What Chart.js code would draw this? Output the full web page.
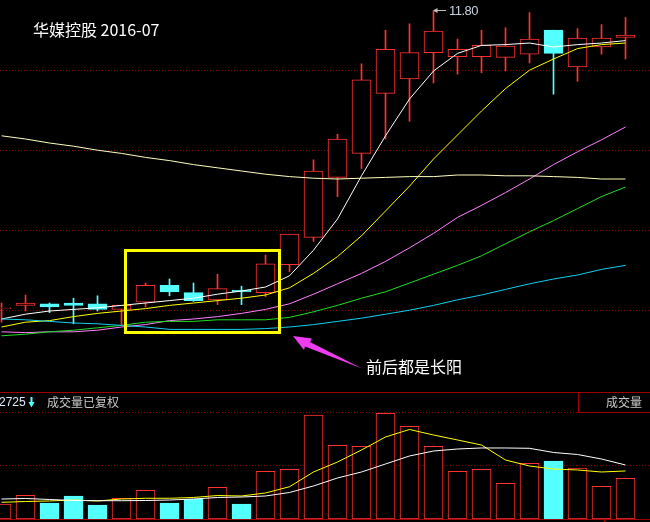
<!DOCTYPE html>
<html>
<head>
<meta charset="utf-8">
<script src="https://cdn.jsdelivr.net/npm/chart.js@4.4.1/dist/chart.umd.min.js"></script>
<style>
  body { margin: 0; background: #000; }
  .wrap { position: relative; width: 650px; height: 522px; overflow: hidden; background: #000; font-family: "Noto Sans CJK SC", sans-serif; }
  canvas { position: absolute; left: 0; }
  #priceChart { top: 0; }
  #volChart { top: 392px; }
  .txt { position: absolute; white-space: nowrap; line-height: 1; }
  .line { position: absolute; background: #a00000; }
  svg { position: absolute; left: 0; top: 0; pointer-events: none; }
</style>
</head>
<body>
<div class="wrap">
  <div class="line" style="left:0;top:392px;width:650px;height:1px"></div>
  <div class="line" style="left:578px;top:392px;width:1px;height:20px"></div>
  <div class="line" style="left:578px;top:412px;width:72px;height:1px"></div>
  <div class="line" style="left:0;top:519px;width:650px;height:1px"></div>
  <div class="line" style="left:604px;top:519px;width:1px;height:3px"></div>

  <canvas id="priceChart" width="650" height="392"></canvas>
  <canvas id="volChart" width="650" height="130"></canvas>

  <div class="txt" style="left:33px;top:21px;font-size:16px;color:#fff">华媒控股 2016-07</div>
  <div class="txt" style="left:366px;top:358px;font-size:16px;color:#fff">前后都是长阳</div>
  <div class="txt" style="left:449px;top:4px;font-size:13px;letter-spacing:-0.5px;color:#c8d0e0;font-family:'Liberation Sans'">11.80</div>
  <div class="txt" style="left:-1px;top:396px;font-size:12px;color:#e0e8ff;font-family:'Liberation Sans'">2725</div>
  <div class="txt" style="left:47px;top:396px;font-size:12px;color:#c8c8c8">成交量已复权</div>
  <div class="txt" style="left:606px;top:396px;font-size:12px;color:#c8c8c8">成交量</div>

  <svg width="650" height="522">
    <rect x="125.5" y="250.5" width="154" height="82" fill="none" stroke="#ffff00" stroke-width="3"/>
    <polygon points="293,336 312,338.5 310,342 362,368.5 305,346.5 304,350" fill="#f03cf0"/>
    <line x1="436" y1="10.5" x2="446" y2="10.5" stroke="#c0c0c0" stroke-width="1"/>
    <polygon points="433,10.5 437.5,8 437.5,13" fill="#c0c0c0"/>
    <rect x="30.5" y="397" width="2" height="6" fill="#54ffff"/>
    <polygon points="28.5,402 34.5,402 31.5,407.5" fill="#54ffff"/>
  </svg>
</div>

<script>
// Data (trading days of 2016-07 window)

const days = [0, 1, 2, 3, 4, 5, 6, 7, 8, 9, 10, 11, 12, 13, 14, 15, 16, 17, 18, 19, 20, 21, 22, 23, 24, 25, 26];
const open  = [8.08, 8.12, 8.14, 8.15, 8.14, 8.07, 8.16, 8.37, 8.28, 8.19, 8.31, 8.28, 8.63, 8.97, 9.72, 10.02, 10.77, 10.95, 11.28, 11.23, 11.23, 11.22, 11.26, 11.56, 11.10, 11.35, 11.47];
const high  = [8.15, 8.25, 8.15, 8.21, 8.24, 8.12, 8.40, 8.45, 8.40, 8.51, 8.36, 8.75, 9.01, 9.94, 10.26, 11.14, 11.56, 11.64, 11.80, 11.45, 11.56, 11.59, 11.78, 11.56, 11.58, 11.63, 11.72];
const low   = [7.91, 8.05, 8.03, 7.89, 8.05, 7.88, 8.10, 8.24, 8.17, 8.13, 8.13, 8.23, 8.54, 8.92, 9.48, 9.83, 10.20, 10.42, 10.90, 11.01, 11.03, 11.05, 11.15, 10.76, 10.92, 11.26, 11.20];
const close = [8.09, 8.15, 8.10, 8.12, 8.07, 8.12, 8.37, 8.29, 8.18, 8.33, 8.29, 8.64, 9.01, 9.80, 10.20, 10.94, 11.32, 11.28, 11.55, 11.32, 11.37, 11.36, 11.45, 11.27, 11.46, 11.46, 11.50];

const ma5   = [7.95, 8.01, 8.05, 8.07, 8.09, 8.12, 8.15, 8.18, 8.21, 8.26, 8.30, 8.35, 8.49, 8.81, 9.20, 9.74, 10.24, 10.70, 11.05, 11.27, 11.37, 11.38, 11.40, 11.35, 11.38, 11.40, 11.43];
const ma10  = [7.85, 7.91, 7.93, 7.98, 8.02, 8.05, 8.08, 8.12, 8.15, 8.18, 8.21, 8.25, 8.34, 8.52, 8.73, 8.99, 9.30, 9.61, 9.95, 10.25, 10.55, 10.83, 11.06, 11.20, 11.33, 11.38, 11.40];
const ma20  = [7.79, 7.78, 7.79, 7.79, 7.81, 7.85, 7.88, 7.93, 7.95, 7.98, 8.02, 8.07, 8.14, 8.26, 8.39, 8.52, 8.67, 8.84, 9.02, 9.22, 9.37, 9.53, 9.70, 9.88, 10.04, 10.19, 10.35];
const ma30  = [7.74, 7.76, 7.79, 7.81, 7.84, 7.87, 7.91, 7.92, 7.92, 7.94, 7.94, 7.94, 7.97, 8.04, 8.12, 8.21, 8.29, 8.40, 8.51, 8.62, 8.74, 8.89, 9.04, 9.18, 9.33, 9.48, 9.60];
const ma60  = [7.95, 7.94, 7.92, 7.90, 7.89, 7.87, 7.85, 7.82, 7.82, 7.82, 7.82, 7.83, 7.85, 7.88, 7.92, 7.96, 8.01, 8.06, 8.12, 8.19, 8.25, 8.32, 8.39, 8.45, 8.50, 8.57, 8.62];
const ma250 = [10.24, 10.20, 10.15, 10.11, 10.06, 10.02, 9.97, 9.93, 9.88, 9.84, 9.80, 9.76, 9.73, 9.71, 9.70, 9.71, 9.72, 9.73, 9.73, 9.75, 9.75, 9.74, 9.74, 9.73, 9.72, 9.70, 9.70];

const volume  = [2.83, 4.47, 3.02, 4.34, 2.64, 3.91, 5.42, 3.02, 3.72, 5.98, 2.83, 9.00, 9.38, 19.62, 13.91, 13.72, 19.94, 17.49, 13.72, 9.00, 9.38, 6.74, 10.51, 10.94, 9.62, 6.17, 7.68];
const volMa5  = [3.15, 3.30, 3.40, 3.58, 3.40, 3.77, 3.91, 3.91, 4.06, 4.43, 4.34, 4.91, 6.09, 8.87, 10.75, 13.02, 15.47, 16.89, 15.85, 14.91, 13.96, 11.13, 10.00, 9.43, 9.25, 8.87, 9.06];
const volMa10 = [3.77, 3.87, 3.68, 3.49, 3.45, 3.45, 3.49, 3.58, 3.77, 4.06, 4.15, 4.34, 5.00, 6.23, 7.74, 8.87, 10.38, 11.89, 12.83, 13.21, 13.40, 13.40, 13.34, 12.55, 12.17, 11.32, 10.19];

const priceGrid = [8.05, 9.05, 10.05, 11.05];
const volGrid = [10, 20];

// Colours

const red = '#ff3232';
const cyan = '#54ffff';
const gridRed = '#8c0000';

const isUp = days.map((d, i) => close[i] >= open[i]);
const candleColor = isUp.map(up => up ? red : cyan);
const bodyFill = isUp.map(up => up ? '#000' : cyan);

const xScale = {
  type: 'linear',
  min: -0.0625,
  max: 27.0208,
  offset: false,
  display: false,
  ticks: { stepSize: 1 },
};

const gridAxis = (min, max, lines) => ({
  min: min,
  max: max,
  afterBuildTicks: scale => { scale.ticks = lines.map(v => ({ value: v })); },
  afterFit: scale => { scale.width = 0; },
  ticks: { display: false },
  grid: { color: gridRed, lineWidth: 1, drawTicks: false },
  border: { display: false, dash: [1, 2] },
});

const lineSet = (values, color) => ({
  type: 'line',
  data: days.map((d, i) => ({ x: d, y: values[i] })),
  borderColor: color,
  borderWidth: 1,
  pointRadius: 0,
  tension: 0,
  order: 0,
});

const baseOptions = {
  responsive: false,
  animation: false,
  events: [],
  plugins: { legend: { display: false }, tooltip: { enabled: false } },
  datasets: { bar: { grouped: false, barPercentage: 1, categoryPercentage: 1 } },
};

// Price chart

new Chart(document.getElementById('priceChart'), {
  type: 'bar',
  data: {
    datasets: [
      lineSet(ma250, '#ffffc0'),
      lineSet(ma60, '#10d0f0'),
      lineSet(ma30, '#22dd22'),
      lineSet(ma20, '#ff80ff'),
      lineSet(ma10, '#ffff00'),
      lineSet(ma5, '#ffffff'),
      {
        data: days.map((d, i) => ({ x: d, y: [open[i], close[i]] })),
        backgroundColor: bodyFill,
        borderColor: candleColor,
        borderWidth: 1,
        borderSkipped: false,
        maxBarThickness: 19,
        order: 1,
      },
      {
        data: days.map((d, i) => ({ x: d, y: [low[i], high[i]] })),
        backgroundColor: candleColor,
        maxBarThickness: 1,
        order: 2,
      },
    ],
  },
  options: {
    ...baseOptions,
    scales: { x: xScale, y: gridAxis(7.0375, 11.9375, priceGrid) },
  },
});

// Volume chart

new Chart(document.getElementById('volChart'), {
  type: 'bar',
  data: {
    datasets: [
      lineSet(volMa10, '#ffffff'),
      lineSet(volMa5, '#ffff00'),
      {
        data: days.map((d, i) => ({ x: d, y: volume[i] })),
        backgroundColor: bodyFill,
        borderColor: candleColor,
        borderWidth: 1,
        borderSkipped: false,
        maxBarThickness: 19,
        order: 1,
      },
    ],
  },
  options: {
    ...baseOptions,
    scales: { x: xScale, y: gridAxis(-0.566, 23.962, volGrid) },
  },
});
</script>
</body>
</html>
